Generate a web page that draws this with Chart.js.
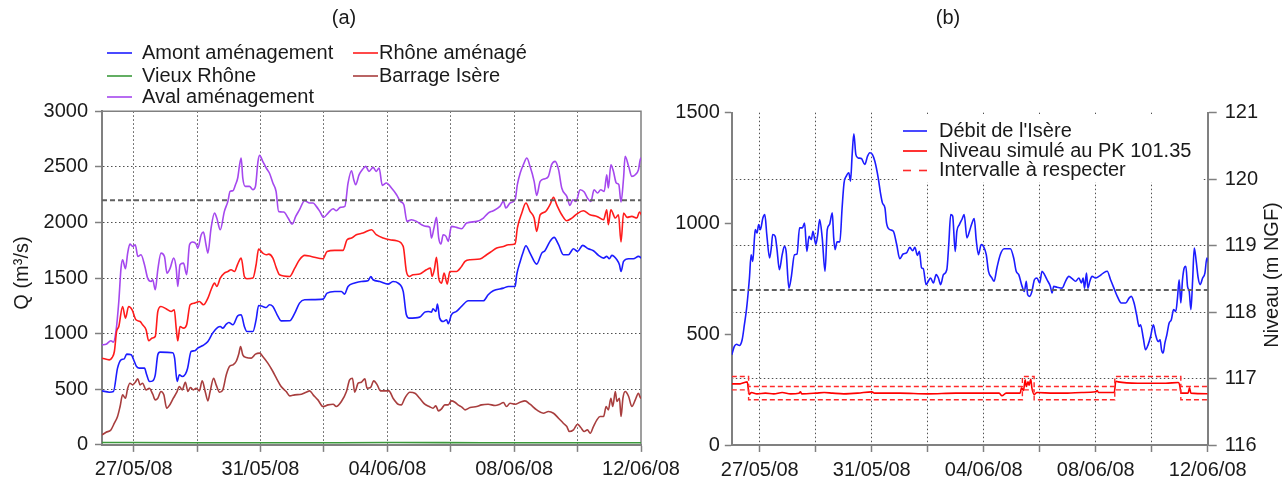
<!DOCTYPE html>
<html>
<head>
<meta charset="utf-8">
<script src="https://cdn.jsdelivr.net/npm/chart.js@4.4.1/dist/chart.umd.min.js"></script>
<style>
  html, body { margin: 0; padding: 0; background: #fff; }
  #wrap { position: relative; width: 1284px; height: 479px; }
  #wrap canvas { position: absolute; left: 0; top: 0; }
</style>
</head>
<body>
<div id="wrap">
  <canvas id="debits" width="1284" height="479"></canvas>
  <canvas id="isere" width="1284" height="479"></canvas>
</div>
<script>
// time axis: days since 26/05/08 00:00
const dateTicks = [1, 3, 5, 7, 9, 11, 13, 15, 17];
const dateLabels = { 1: "27/05/08", 5: "31/05/08", 9: "04/06/08", 13: "08/06/08", 17: "12/06/08" };

// (a) discharges, m3/s : [day, Q]
const amont = [[0,486],[0.23,474],[0.36,480],[0.49,690],[0.6,765],[0.7,774],[0.78,816],[0.92,810],[1.02,750],[1.09,705],[1.18,690],[1.34,690],[1.41,630],[1.5,570],[1.6,576],[1.68,630],[1.76,810],[1.83,834],[2.23,828],[2.29,780],[2.37,570],[2.44,630],[2.53,615],[2.63,636],[2.7,690],[2.81,840],[2.92,846],[3.02,870],[3.18,894],[3.34,930],[3.49,1005],[3.65,1056],[3.73,1065],[3.81,1050],[3.92,1086],[4.0,1101],[4.13,1080],[4.28,1161],[4.39,1170],[4.49,1065],[4.57,1020],[4.76,1020],[4.86,1125],[4.94,1254],[5.07,1245],[5.18,1236],[5.28,1260],[5.39,1245],[5.55,1155],[5.65,1115],[5.92,1116],[6.08,1185],[6.23,1275],[6.39,1305],[6.97,1311],[7.1,1365],[7.34,1380],[7.55,1380],[7.65,1356],[7.76,1425],[7.97,1455],[8.18,1470],[8.39,1476],[8.48,1515],[8.55,1485],[8.76,1470],[9.02,1446],[9.18,1470],[9.34,1455],[9.5,1380],[9.6,1170],[9.69,1140],[10.02,1149],[10.18,1194],[10.29,1200],[10.39,1194],[10.44,1224],[10.53,1200],[10.58,1266],[10.65,1140],[10.76,1110],[10.87,1125],[10.92,1089],[11.02,1170],[11.18,1200],[11.34,1245],[11.55,1296],[12.03,1296],[12.18,1350],[12.34,1386],[12.66,1410],[12.82,1425],[13.03,1425],[13.08,1530],[13.19,1650],[13.29,1740],[13.37,1791],[13.5,1725],[13.71,1626],[13.87,1725],[13.97,1746],[14.13,1830],[14.26,1866],[14.4,1800],[14.55,1710],[14.71,1710],[14.87,1764],[15.0,1740],[15.16,1794],[15.34,1764],[15.5,1746],[15.66,1704],[15.82,1680],[15.92,1695],[16.0,1674],[16.08,1704],[16.24,1665],[16.32,1620],[16.37,1560],[16.45,1650],[16.61,1674],[16.76,1674],[16.92,1695],[17.04,1674]];
const vieuxRhone = [[0,22],[3,20],[6,19],[9,21],[12,20],[15,19],[17,20]];
const aval = [[0,900],[0.13,906],[0.28,936],[0.36,924],[0.44,1020],[0.53,1290],[0.6,1590],[0.65,1665],[0.74,1584],[0.81,1725],[0.88,1806],[0.97,1785],[1.05,1800],[1.13,1695],[1.23,1710],[1.34,1620],[1.44,1500],[1.55,1470],[1.6,1485],[1.68,1395],[1.76,1575],[1.86,1725],[1.97,1695],[2.05,1545],[2.15,1590],[2.26,1680],[2.34,1590],[2.39,1425],[2.46,1620],[2.57,1635],[2.67,1530],[2.76,1800],[2.86,1824],[2.97,1806],[3.02,1770],[3.13,1890],[3.2,1914],[3.28,1800],[3.34,1725],[3.44,1950],[3.55,2085],[3.62,2040],[3.73,1935],[3.86,2100],[3.97,2190],[4.04,2280],[4.13,2286],[4.21,2340],[4.28,2400],[4.34,2520],[4.39,2580],[4.44,2400],[4.52,2325],[4.65,2325],[4.76,2295],[4.84,2325],[4.92,2550],[4.97,2604],[5.07,2550],[5.18,2490],[5.28,2445],[5.39,2355],[5.49,2280],[5.57,2100],[5.73,2094],[5.87,2040],[6.0,1986],[6.11,2055],[6.23,2115],[6.39,2196],[6.55,2175],[6.66,2175],[6.76,2145],[6.87,2100],[6.99,2046],[7.13,2085],[7.29,2124],[7.39,2106],[7.52,2136],[7.66,2145],[7.76,2355],[7.87,2466],[7.94,2385],[8.0,2340],[8.11,2430],[8.21,2475],[8.32,2505],[8.42,2460],[8.55,2496],[8.65,2460],[8.74,2490],[8.84,2334],[8.97,2355],[9.13,2310],[9.29,2250],[9.41,2190],[9.52,2160],[9.62,2010],[9.76,2025],[9.92,2010],[10.08,1980],[10.23,1965],[10.34,1956],[10.39,1860],[10.47,1950],[10.55,2046],[10.62,1860],[10.69,1806],[10.76,1890],[10.85,1875],[10.92,1830],[11.02,1965],[11.18,1956],[11.34,1944],[11.5,1995],[11.82,2010],[12.03,2040],[12.18,2085],[12.34,2106],[12.55,2145],[12.66,2190],[12.74,2130],[12.87,2175],[13.03,2205],[13.1,2340],[13.19,2445],[13.29,2520],[13.4,2580],[13.5,2505],[13.63,2370],[13.71,2244],[13.82,2370],[13.97,2394],[14.08,2415],[14.18,2520],[14.29,2550],[14.4,2475],[14.5,2310],[14.66,2235],[14.76,2154],[14.85,2205],[14.95,2190],[15.08,2295],[15.21,2274],[15.31,2220],[15.42,2190],[15.52,2295],[15.63,2265],[15.73,2295],[15.84,2280],[15.92,2430],[15.97,2310],[16.05,2520],[16.13,2460],[16.22,2355],[16.3,2340],[16.37,2184],[16.45,2400],[16.5,2595],[16.61,2505],[16.71,2415],[16.82,2430],[16.92,2475],[16.99,2580],[17.04,2535]];
const rhoneAmenage = [[0,780],[0.23,765],[0.32,786],[0.39,840],[0.46,1020],[0.53,1065],[0.65,1245],[0.74,1140],[0.84,1245],[0.95,1215],[1.07,1125],[1.2,1110],[1.28,1080],[1.39,1035],[1.47,936],[1.58,960],[1.68,975],[1.76,1200],[1.86,1245],[2.02,1224],[2.18,1200],[2.28,1215],[2.34,1050],[2.39,936],[2.46,1065],[2.57,1050],[2.67,1080],[2.78,1260],[2.92,1275],[3.07,1290],[3.2,1260],[3.34,1320],[3.44,1395],[3.55,1455],[3.62,1425],[3.73,1500],[3.86,1545],[3.97,1560],[4.07,1575],[4.18,1560],[4.28,1626],[4.39,1680],[4.49,1515],[4.57,1494],[4.76,1500],[4.86,1620],[4.94,1761],[5.07,1725],[5.18,1710],[5.26,1716],[5.39,1680],[5.5,1590],[5.6,1530],[5.92,1515],[6.08,1590],[6.23,1665],[6.39,1704],[6.6,1695],[6.97,1674],[7.1,1740],[7.34,1749],[7.6,1749],[7.73,1845],[7.87,1860],[8.02,1890],[8.23,1905],[8.5,1935],[8.65,1890],[8.87,1860],[9.08,1845],[9.29,1836],[9.5,1785],[9.6,1560],[9.69,1515],[9.81,1530],[10.02,1536],[10.23,1575],[10.36,1590],[10.41,1515],[10.48,1575],[10.55,1686],[10.62,1500],[10.71,1455],[10.79,1545],[10.89,1446],[10.97,1560],[11.18,1560],[11.34,1605],[11.45,1650],[11.61,1665],[11.92,1671],[12.13,1710],[12.29,1740],[12.45,1770],[12.66,1785],[12.82,1800],[13.03,1806],[13.1,1950],[13.24,2085],[13.37,2175],[13.5,2100],[13.63,2040],[13.71,1920],[13.82,2070],[13.97,2094],[14.13,2160],[14.24,2226],[14.34,2160],[14.5,2070],[14.66,2016],[14.82,2040],[14.97,2076],[15.18,2106],[15.39,2070],[15.61,2055],[15.82,2025],[15.92,2115],[15.97,1980],[16.05,2115],[16.19,2040],[16.29,2070],[16.37,1824],[16.45,2085],[16.56,2046],[16.71,2055],[16.87,2040],[16.95,2094],[17.04,2055]];
const barrageIsere = [[0,90],[0.13,114],[0.28,135],[0.39,195],[0.49,255],[0.57,345],[0.65,450],[0.74,420],[0.81,510],[0.88,555],[0.97,540],[1.05,564],[1.13,594],[1.2,540],[1.28,555],[1.39,495],[1.49,510],[1.6,456],[1.68,405],[1.76,420],[1.86,480],[1.95,450],[2.04,330],[2.15,366],[2.25,420],[2.36,474],[2.44,525],[2.53,495],[2.63,564],[2.71,480],[2.79,516],[2.88,495],[2.97,510],[3.07,486],[3.16,576],[3.26,474],[3.34,396],[3.41,480],[3.52,600],[3.6,540],[3.71,474],[3.81,495],[3.92,630],[4.02,705],[4.13,720],[4.23,750],[4.32,825],[4.37,885],[4.44,810],[4.55,786],[4.71,780],[4.84,816],[4.97,825],[5.07,795],[5.23,735],[5.39,660],[5.5,600],[5.65,525],[5.81,480],[5.92,441],[6.08,450],[6.29,456],[6.44,474],[6.55,486],[6.66,450],[6.81,405],[6.97,345],[7.13,360],[7.29,366],[7.39,345],[7.55,390],[7.71,480],[7.81,585],[7.9,600],[7.97,474],[8.08,555],[8.18,564],[8.29,594],[8.36,510],[8.47,516],[8.57,576],[8.68,540],[8.78,486],[8.92,486],[9.05,486],[9.18,420],[9.34,366],[9.44,360],[9.55,420],[9.71,474],[9.87,465],[10.02,420],[10.18,366],[10.32,345],[10.44,330],[10.53,351],[10.61,306],[10.71,324],[10.81,360],[10.92,360],[11.02,396],[11.13,384],[11.23,360],[11.35,340],[11.45,315],[11.61,336],[11.82,345],[11.97,360],[12.18,366],[12.4,354],[12.55,366],[12.66,381],[12.76,345],[12.87,375],[13.03,366],[13.19,384],[13.34,396],[13.5,366],[13.71,315],[13.92,285],[14.08,300],[14.24,285],[14.4,240],[14.55,195],[14.66,165],[14.74,120],[14.87,135],[15.0,186],[15.1,156],[15.21,120],[15.31,135],[15.4,105],[15.5,165],[15.61,225],[15.71,255],[15.82,255],[15.9,345],[15.97,315],[16.05,420],[16.11,345],[16.19,480],[16.24,390],[16.32,420],[16.37,255],[16.43,420],[16.5,480],[16.61,435],[16.71,345],[16.82,405],[16.92,465],[16.99,420],[17.04,444]];
const seuilA = 2200;

// (b) Isere discharge (m3/s) and simulated level (m NGF)
const debitIsere = [[0,407],[0.09,445],[0.17,455],[0.27,449],[0.37,475],[0.45,543],[0.53,618],[0.63,754],[0.69,859],[0.75,829],[0.81,935],[0.84,972],[0.9,957],[0.96,995],[1.02,972],[1.11,1025],[1.18,1040],[1.25,950],[1.35,844],[1.41,889],[1.46,950],[1.55,942],[1.61,889],[1.7,791],[1.8,859],[1.88,897],[1.94,874],[2.04,708],[2.12,754],[2.24,859],[2.33,862],[2.42,980],[2.52,980],[2.6,1002],[2.68,874],[2.76,942],[2.84,927],[2.9,965],[3.0,905],[3.07,950],[3.14,1018],[3.23,935],[3.33,784],[3.41,972],[3.49,995],[3.59,1048],[3.64,935],[3.69,882],[3.76,917],[3.86,917],[3.94,1070],[4.01,1183],[4.09,1214],[4.18,1229],[4.24,1191],[4.3,1312],[4.36,1405],[4.43,1312],[4.51,1296],[4.63,1293],[4.75,1266],[4.85,1304],[4.93,1319],[5.02,1312],[5.11,1281],[5.23,1206],[5.31,1138],[5.38,1093],[5.47,1070],[5.53,1000],[5.65,972],[5.77,965],[5.89,905],[6.0,841],[6.12,862],[6.24,867],[6.36,892],[6.46,877],[6.54,892],[6.63,856],[6.7,874],[6.78,799],[6.84,796],[6.94,724],[7.02,739],[7.1,754],[7.2,731],[7.3,769],[7.38,754],[7.46,724],[7.56,769],[7.68,791],[7.75,905],[7.82,1040],[7.89,1033],[7.98,874],[8.04,965],[8.13,995],[8.22,1018],[8.3,1040],[8.4,935],[8.49,965],[8.57,998],[8.66,1022],[8.73,927],[8.81,859],[8.91,905],[8.99,897],[9.09,859],[9.17,784],[9.29,754],[9.37,739],[9.47,799],[9.59,859],[9.73,886],[9.95,886],[10.07,844],[10.16,784],[10.25,769],[10.37,716],[10.45,693],[10.52,739],[10.57,678],[10.64,671],[10.72,693],[10.81,746],[10.9,754],[11.0,731],[11.08,784],[11.17,769],[11.26,746],[11.38,716],[11.44,686],[11.5,716],[11.62,712],[11.8,708],[11.92,739],[12.04,761],[12.16,751],[12.28,739],[12.4,754],[12.49,731],[12.55,754],[12.6,708],[12.67,776],[12.72,708],[12.79,739],[12.87,761],[12.99,754],[13.11,761],[13.27,776],[13.41,784],[13.53,746],[13.65,708],[13.77,671],[13.91,641],[14.07,641],[14.19,663],[14.27,671],[14.37,641],[14.46,588],[14.55,535],[14.6,543],[14.7,482],[14.78,430],[14.87,452],[14.96,490],[15.06,543],[15.14,497],[15.23,467],[15.3,475],[15.35,430],[15.41,415],[15.47,460],[15.54,497],[15.62,550],[15.7,565],[15.78,611],[15.86,603],[15.92,663],[15.98,746],[16.04,641],[16.1,746],[16.16,799],[16.22,807],[16.28,716],[16.34,693],[16.4,611],[16.46,739],[16.52,889],[16.59,829],[16.66,754],[16.73,724],[16.82,754],[16.9,776],[16.97,844],[17.05,814]];
const niveauSimule = [[0,116.92],[0.3,116.92],[0.45,116.94],[0.55,116.95],[0.62,116.76],[0.7,116.79],[0.9,116.77],[1.2,116.78],[1.5,116.77],[1.8,116.79],[2.1,116.77],[2.4,116.78],[2.45,116.8],[2.5,116.77],[3.0,116.78],[3.3,116.79],[3.6,116.78],[4.0,116.77],[4.5,116.78],[5.0,116.8],[5.1,116.78],[6,116.78],[7,116.77],[8,116.78],[9,116.78],[9.55,116.78],[9.65,116.74],[9.8,116.78],[10.3,116.78],[10.35,116.86],[10.42,116.82],[10.48,116.98],[10.52,116.88],[10.58,116.95],[10.62,116.9],[10.68,116.99],[10.72,116.86],[10.8,116.76],[10.9,116.79],[11.5,116.78],[12,116.78],[12.5,116.79],[13.0,116.8],[13.05,116.82],[13.1,116.79],[13.66,116.79],[13.72,116.96],[13.8,116.95],[14.5,116.93],[15,116.93],[15.5,116.93],[15.95,116.94],[16.0,116.9],[16.05,116.78],[16.3,116.78],[16.35,116.86],[16.4,116.78],[17,116.77]];
const intervalleHaut = [[0,117.03],[0.6,117.03],[0.6,116.88],[10.38,116.88],[10.38,117.03],[10.8,117.03],[10.8,116.88],[13.68,116.88],[13.68,117.03],[16.04,117.03],[16.04,116.88],[17,116.88]];
const intervalleBas = [[0,116.83],[0.6,116.83],[0.6,116.68],[10.38,116.68],[10.38,116.83],[10.8,116.83],[10.8,116.68],[13.68,116.68],[13.68,116.83],[16.04,116.83],[16.04,116.68],[17,116.68]];
const seuilB = 700;

const FONT = "'Liberation Sans', Arial, sans-serif";
const TEXT = "#1a1a1a";
const AXE = "#808080";
const GRILLE = "#505050";

Chart.defaults.font.family = FONT;
Chart.defaults.font.size = 20;
Chart.defaults.color = TEXT;

const pts = (arr) => arr.map(([x, y]) => ({ x, y }));

const serie = (label, data, color, extra = {}) => ({
  label,
  data: pts(data),
  borderColor: color,
  borderWidth: 1.6,
  pointRadius: 0,
  cubicInterpolationMode: "monotone",
  fill: false,
  ...extra,
});

// stepped / straight reference lines
const droite = { cubicInterpolationMode: "default", tension: 0 };

// force the scale box sizes so the plot areas land where wanted
const fixe = (taille) => (scale) => {
  if (scale.isHorizontal()) scale.height = taille;
  else scale.width = taille;
  scale.paddingLeft = 0;
  scale.paddingRight = 0;
  scale.paddingTop = 0;
  scale.paddingBottom = 0;
};

const entier = (v) => String(v);

const axeTemps = (hauteur) => ({
  type: "linear",
  min: 0,
  max: 17,
  afterBuildTicks: (scale) => {
    scale.ticks = dateTicks.map((v) => ({ value: v }));
  },
  afterFit: fixe(hauteur),
  ticks: {
    autoSkip: false,
    maxRotation: 0,
    minRotation: 0,
    padding: 6,
    callback: (v) => dateLabels[v] || "",
  },
  grid: {
    color: (c) => (c.tick && c.tick.value === 17 ? "rgba(0,0,0,0)" : GRILLE),
    lineWidth: 1,
    tickColor: AXE,
    tickWidth: 1.5,
    tickLength: 7,
    tickBorderDash: [],
  },
  border: { color: AXE, width: 2, dash: [1.5, 2.5] },
});

const texte = (ctx, str, x, y, align = "left", rot = 0) => {
  ctx.save();
  ctx.translate(x, y);
  if (rot) ctx.rotate(rot);
  ctx.font = `20px ${FONT}`;
  ctx.fillStyle = TEXT;
  ctx.textAlign = align;
  ctx.textBaseline = "middle";
  ctx.fillText(str, 0, 0);
  ctx.restore();
};

const trait = (ctx, x1, x2, y, color, dash = []) => {
  ctx.save();
  ctx.strokeStyle = color;
  ctx.lineWidth = 1.6;
  ctx.setLineDash(dash);
  ctx.beginPath();
  ctx.moveTo(x1, y);
  ctx.lineTo(x2, y);
  ctx.stroke();
  ctx.restore();
};

const COUL = {
  amont: "#1c1cff",
  vieux: "#3c9a3c",
  aval: "#a548ee",
  rhone: "#ff1c1c",
  barrage: "#a83e3e",
};

// ---- (a) ----
const decorA = {
  id: "decorA",
  beforeDatasetsDraw(chart) {
    const { ctx, chartArea: a } = chart;
    ctx.save();
    ctx.strokeStyle = AXE;
    ctx.lineWidth = 1.5;
    ctx.beginPath();
    ctx.moveTo(a.left, a.top);
    ctx.lineTo(a.right, a.top);
    ctx.lineTo(a.right, a.bottom);
    ctx.stroke();
    ctx.restore();
  },
  afterDraw(chart) {
    const { ctx } = chart;
    texte(ctx, "(a)", 344, 18, "center");
    texte(ctx, "Q (m³/s)", 22, 273, "center", -Math.PI / 2);
    const legende = [
      ["Amont aménagement", COUL.amont, 107, 142, 53],
      ["Vieux Rhône", COUL.vieux, 107, 142, 76],
      ["Aval aménagement", COUL.aval, 107, 142, 97],
      ["Rhône aménagé", COUL.rhone, 353, 379, 53],
      ["Barrage Isère", COUL.barrage, 353, 379, 76],
    ];
    legende.forEach(([label, color, x, tx, y]) => {
      trait(ctx, x, x + 25, y, color);
      texte(ctx, label, tx, y);
    });
  },
};

new Chart(document.getElementById("debits"), {
  type: "line",
  data: {
    datasets: [
      serie("seuil", [[0, seuilA], [17, seuilA]], "#606060", { borderDash: [5, 3], borderWidth: 2, ...droite }),
      serie("Vieux Rhône", vieuxRhone, COUL.vieux),
      serie("Barrage Isère", barrageIsere, COUL.barrage),
      serie("Amont aménagement", amont, COUL.amont),
      serie("Rhône aménagé", rhoneAmenage, COUL.rhone),
      serie("Aval aménagement", aval, COUL.aval),
    ],
  },
  options: {
    responsive: false,
    animation: false,
    devicePixelRatio: 1,
    parsing: false,
    layout: { padding: { left: 0, top: 111.3, right: 1284 - 641, bottom: 0 } },
    plugins: { legend: { display: false }, tooltip: { enabled: false } },
    scales: {
      x: axeTemps(479 - 444.9),
      y: {
        min: 0,
        max: 3000,
        afterFit: fixe(102),
        ticks: { stepSize: 500, padding: 7, callback: entier },
        grid: {
          color: (c) => (c.tick && (c.tick.value === 0 || c.tick.value === 3000) ? "rgba(0,0,0,0)" : GRILLE),
          tickColor: AXE,
          tickWidth: 1.5,
          tickLength: 7,
          tickBorderDash: [],
        },
        border: { color: AXE, width: 2, dash: [1.5, 2.5] },
      },
    },
  },
  plugins: [decorA],
});

// ---- (b) ----
const decorB = {
  id: "decorB",
  afterDatasetsDraw(chart) {
    const { ctx } = chart;
    // legend box sits over the grid
    ctx.save();
    ctx.fillStyle = "#fff";
    ctx.fillRect(897, 114, 305, 68);
    ctx.restore();
    trait(ctx, 903, 927, 131, "#1c1cff");
    texte(ctx, "Débit de l'Isère", 939, 131);
    trait(ctx, 903, 927, 151, "#ff0000");
    texte(ctx, "Niveau simulé au PK 101.35", 939, 151);
    trait(ctx, 903, 927, 170.5, "#ff2a2a", [8, 8]);
    texte(ctx, "Intervalle à respecter", 939, 170.5);
  },
  afterDraw(chart) {
    const { ctx } = chart;
    texte(ctx, "(b)", 948, 18, "center");
    texte(ctx, "Niveau (m NGF)", 1272, 275, "center", -Math.PI / 2);
  },
};

new Chart(document.getElementById("isere"), {
  type: "line",
  data: {
    datasets: [
      serie("seuil", [[0, seuilB], [17, seuilB]], "#606060", { borderDash: [5, 3], borderWidth: 2, yAxisID: "q", ...droite }),
      serie("Intervalle haut", intervalleHaut, "#ff2a2a", { borderDash: [5, 3], borderWidth: 1.4, yAxisID: "niv", ...droite }),
      serie("Intervalle bas", intervalleBas, "#ff2a2a", { borderDash: [5, 3], borderWidth: 1.4, yAxisID: "niv", ...droite }),
      serie("Niveau simulé au PK 101.35", niveauSimule, "#ff0000", { yAxisID: "niv" }),
      serie("Débit de l'Isère", debitIsere, "#1c1cff", { yAxisID: "q" }),
    ],
  },
  options: {
    responsive: false,
    animation: false,
    devicePixelRatio: 1,
    parsing: false,
    layout: { padding: { left: 671.8, top: 112.7, right: 16.3, bottom: 0 } },
    plugins: { legend: { display: false }, tooltip: { enabled: false } },
    scales: {
      x: axeTemps(479 - 445),
      q: {
        position: "left",
        min: 0,
        max: 1500,
        afterFit: fixe(60),
        ticks: { stepSize: 500, padding: 5, callback: entier },
        grid: {
          drawOnChartArea: false,
          tickColor: AXE,
          tickWidth: 1.5,
          tickLength: 7,
        },
        border: { color: AXE, width: 2 },
      },
      niv: {
        position: "right",
        min: 116,
        max: 121,
        afterFit: fixe(60),
        ticks: { stepSize: 1, padding: 8, callback: entier },
        grid: {
          color: (c) => (c.tick && (c.tick.value === 116 || c.tick.value === 121) ? "rgba(0,0,0,0)" : GRILLE),
          tickColor: AXE,
          tickWidth: 1.5,
          tickLength: 9,
          tickBorderDash: [],
        },
        border: { color: AXE, width: 2, dash: [1.5, 2.5] },
      },
    },
  },
  plugins: [decorB],
});
</script>
</body>
</html>
